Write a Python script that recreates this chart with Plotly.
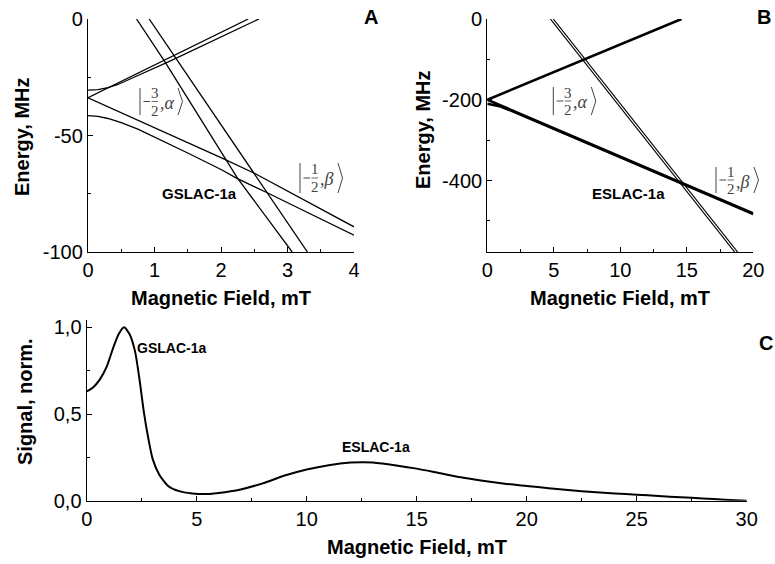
import plotly.graph_objects as go

W, H = 775, 564

# ---------------- Panel A: ground-state levels near GSLAC (0-4 mT) ----------------
a1_x = [0, 2.41]
a1_y = [-33.8, 0]
a2_x = [0, 0.15, 0.3, 0.45, 0.7, 1.2, 2.57]
a2_y = [-30.5, -30.3, -29.5, -28.1, -24.9, -18.5, 0]
a3_x = [0, 0.5, 1.0, 1.5, 2.0, 2.51, 3.0, 3.5, 4.0]
a3_y = [-33.8, -40.2, -46.6, -53.0, -59.5, -66.3, -73.8, -81.5, -89.2]
a4_x = [0, 0.15, 0.3, 0.5, 0.75, 1.0, 1.5, 2.0, 2.24, 2.71, 3.3, 4.0]
a4_y = [-41.5, -41.8, -42.7, -44.5, -47.3, -50.6, -57.5, -64.6, -68.4, -74.8, -83.0, -92.8]
s1_x = [0.73, 1.16, 2.25, 2.65, 3.07]
s1_y = [0, -18.5, -68.4, -84.0, -100]
s2_x = [0.92, 3.30]
s2_y = [0, -100]

# ---------------- Panel B: excited-state levels near ESLAC (0-20 mT) ----------------
b_up_x = [0, 14.6]
b_up_y = [-200, 0]
b_dn1_x = [0, 20]
b_dn1_y = [-200, -481.6]
b_dn2_x = [0, 1.0, 2.0, 20]
b_dn2_y = [-210, -216.5, -230, -483]
b_st1_x = [4.74, 18.60]
b_st1_y = [0, -577]
b_st2_x = [4.96, 18.82]
b_st2_y = [0, -577]

# ---------------- Panel C: normalised signal vs field (0-30 mT) ----------------
c_x = [0, 0.3, 0.6, 0.9, 1.2, 1.45, 1.7, 1.95, 2.2, 2.4, 2.6, 2.8, 3.0, 3.3, 3.7,
       4.2, 4.8, 5.3, 6.0, 7, 8, 9, 10, 11, 12, 12.6, 13, 14, 15, 16, 17, 18, 19,
       20, 21, 22, 23, 24, 25, 26, 27, 28, 29, 30]
c_y = [0.63, 0.655, 0.70, 0.77, 0.88, 0.96, 1.0, 0.96, 0.86, 0.70, 0.51, 0.36, 0.24,
       0.15, 0.085, 0.055, 0.042, 0.038, 0.045, 0.065, 0.10, 0.145, 0.18, 0.205, 0.22,
       0.222, 0.22, 0.205, 0.185, 0.16, 0.135, 0.115, 0.098, 0.085, 0.072, 0.06,
       0.05, 0.042, 0.035, 0.027, 0.02, 0.013, 0.006, 0.0]

# tick labels
a_xticks = [0, 1, 2, 3, 4]
a_yticks = [-100, -50, 0]
a_yticktext = ["-100", "-50", "0"]
b_xticks = [0, 5, 10, 15, 20]
b_yticks = [-400, -200, 0]
b_yticktext = ["-400", "-200", "0"]
c_xticks = [0, 5, 10, 15, 20, 25, 30]
c_yticks = [0, 0.5, 1.0]
c_yticktext = ["0,0", "0,5", "1,0"]

SANS = "Liberation Sans, Arial, sans-serif"
SERIF = "Liberation Serif, Times New Roman, serif"


def fx(p):
    return p / W


def fy(p):
    return 1 - p / H


fig = go.Figure()

thin = dict(color="black", width=1.3)
for xs, ys in [(a1_x, a1_y), (a2_x, a2_y), (a3_x, a3_y), (a4_x, a4_y), (s1_x, s1_y), (s2_x, s2_y)]:
    fig.add_trace(go.Scatter(x=xs, y=ys, mode="lines", line=thin, xaxis="x", yaxis="y",
                             showlegend=False, hoverinfo="skip"))

thick = dict(color="black", width=2.6)
for xs, ys in [(b_up_x, b_up_y), (b_dn1_x, b_dn1_y), (b_dn2_x, b_dn2_y)]:
    fig.add_trace(go.Scatter(x=xs, y=ys, mode="lines", line=thick, xaxis="x2", yaxis="y2",
                             showlegend=False, hoverinfo="skip"))
for xs, ys in [(b_st1_x, b_st1_y), (b_st2_x, b_st2_y)]:
    fig.add_trace(go.Scatter(x=xs, y=ys, mode="lines", line=dict(color="black", width=1.2),
                             xaxis="x2", yaxis="y2", showlegend=False, hoverinfo="skip"))

fig.add_trace(go.Scatter(x=c_x, y=c_y, mode="lines",
                         line=dict(color="black", width=2.0, shape="spline", smoothing=0.6),
                         xaxis="x3", yaxis="y3", showlegend=False, hoverinfo="skip"))

tickfont = dict(family=SANS, size=20, color="black")


def axis(domain, rng, tickvals, ticktext=None, minor_dtick=None):
    d = dict(domain=domain, range=rng, tickvals=tickvals, showgrid=False, zeroline=False,
             showline=True, linecolor="black", linewidth=1.3, ticks="inside", ticklen=5,
             tickwidth=1.2, tickcolor="black", tickfont=tickfont, fixedrange=True,
             automargin=False)
    if ticktext is not None:
        d["ticktext"] = ticktext
    if minor_dtick is not None:
        d["minor"] = dict(dtick=minor_dtick, ticks="inside", ticklen=3, tickwidth=1,
                          tickcolor="black", showgrid=False)
    return d


fig.update_layout(
    width=W, height=H,
    margin=dict(l=0, r=0, t=0, b=0, pad=0),
    paper_bgcolor="white", plot_bgcolor="white",
    showlegend=False,
    xaxis=axis([fx(88), fx(354)], [0, 4], a_xticks, minor_dtick=0.5),
    yaxis=axis([fy(252), fy(19)], [-100, 0], a_yticks, a_yticktext, minor_dtick=25),
    xaxis2=axis([fx(487.3), fx(753.3)], [0, 20], b_xticks, minor_dtick=2.5),
    yaxis2=axis([fy(252), fy(19)], [-577, 0], b_yticks, b_yticktext, minor_dtick=100),
    xaxis3=axis([fx(86.7), fx(746.7)], [0, 30], c_xticks, minor_dtick=2.5),
    yaxis3=axis([fy(500.7), fy(320.4)], [0, 1.04], c_yticks, c_yticktext, minor_dtick=0.25),
)
fig.layout.yaxis2.anchor = "x2"
fig.layout.xaxis2.anchor = "y2"
fig.layout.yaxis3.anchor = "x3"
fig.layout.xaxis3.anchor = "y3"

ann = []


def text(x, y, s, size=20, bold=False, angle=0, family=SANS, xanchor="center", color="black"):
    ann.append(dict(x=fx(x), y=fy(y), xref="paper", yref="paper", showarrow=False,
                    text=f"<b>{s}</b>" if bold else s, textangle=angle,
                    font=dict(family=family, size=size, color=color),
                    xanchor=xanchor, yanchor="middle"))


# axis titles
text(22, 137, "Energy, MHz", bold=True, angle=-90)
text(221, 298, "Magnetic Field, mT", bold=True)
text(423, 130, "Energy, MHz", bold=True, angle=-90)
text(620, 298, "Magnetic Field, mT", bold=True)
text(25, 402, "Signal, norm.", bold=True, angle=-90)
text(417, 547, "Magnetic Field, mT", bold=True)

# panel letters
text(371, 17, "A", bold=True)
text(764, 17, "B", bold=True)
text(766, 343, "C", bold=True)

# crossing labels
text(199, 193, "GSLAC-1a", size=15, bold=True)
text(628, 193, "ESLAC-1a", size=15, bold=True)
text(171, 348, "GSLAC-1a", size=14, bold=True)
text(376, 447, "ESLAC-1a", size=14, bold=True)

shapes = []
GREY = "#444444"


def ket(x0, ytop, ybot, num, sym):
    """State label |-num/2, sym> built from a bar, a stacked fraction and an angle bracket."""
    ym = (ytop + ybot) / 2
    line = dict(color=GREY, width=1)
    shapes.append(dict(type="line", xref="paper", yref="paper", x0=fx(x0), x1=fx(x0),
                       y0=fy(ytop), y1=fy(ybot), line=line))
    # minus sign
    shapes.append(dict(type="line", xref="paper", yref="paper", x0=fx(x0 + 3.5), x1=fx(x0 + 10),
                       y0=fy(ym), y1=fy(ym), line=line))
    # stacked fraction
    text(x0 + 14.5, ym - 8.5, num, size=15, family=SERIF, color=GREY)
    text(x0 + 14.5, ym + 9, "2", size=15, family=SERIF, color=GREY)
    shapes.append(dict(type="line", xref="paper", yref="paper", x0=fx(x0 + 11.5), x1=fx(x0 + 18),
                       y0=fy(ym), y1=fy(ym), line=dict(color=GREY, width=0.8)))
    text(x0 + 18, ym + 1.5, f",<i>{sym}</i>", size=18, family=SERIF, xanchor="left", color=GREY)
    bx = x0 + 38
    shapes.append(dict(type="path", xref="paper", yref="paper",
                       path=f"M {fx(bx)} {fy(ytop)} L {fx(bx + 4.5)} {fy(ym)} L {fx(bx)} {fy(ybot)}",
                       line=line))


ket(140, 88, 115, "3", "α")
ket(300, 163, 193, "1", "β")
ket(553.3, 87, 115, "3", "α")
ket(716, 167, 193, "1", "β")

fig.update_layout(annotations=ann, shapes=shapes)

fig.write_html("out.html")
